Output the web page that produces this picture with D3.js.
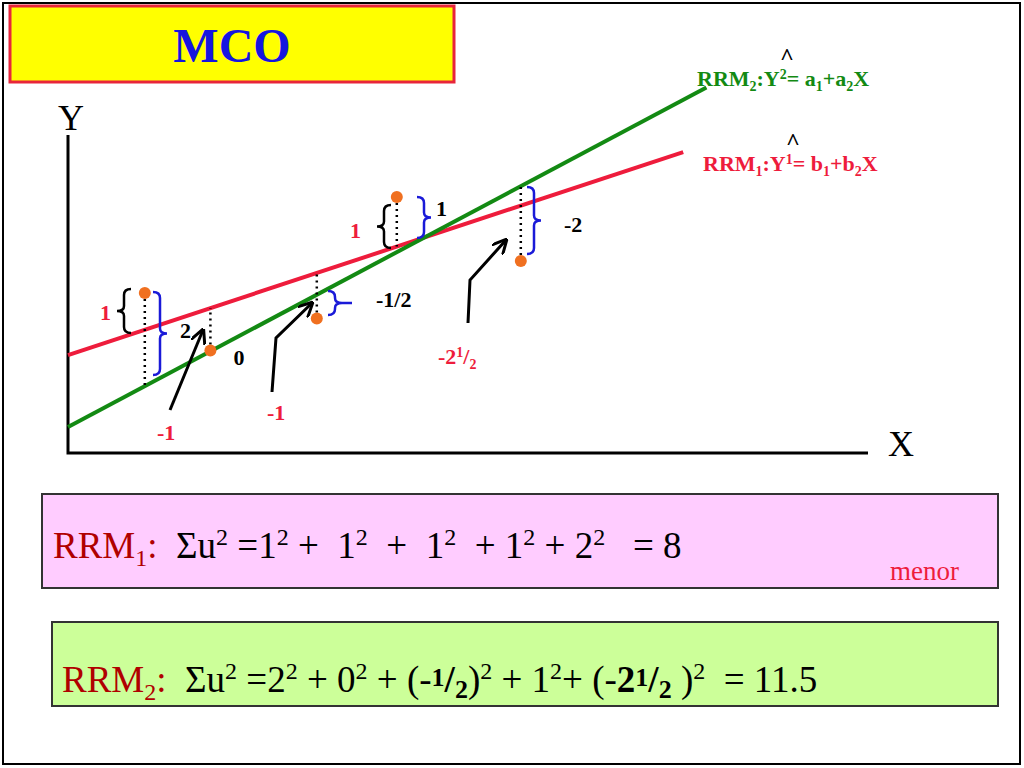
<!DOCTYPE html>
<html>
<head>
<meta charset="utf-8">
<style>
  body { margin: 0; background: #fff; }
  svg text { font-family: "Liberation Serif", "DejaVu Serif", serif; }
</style>
<script src="https://cdn.jsdelivr.net/npm/d3@7"></script>
</head>
<body>
<div id="chart"></div>
<script>
// observations (x, y) in chart units
var obsX = [0.96, 1.78, 3.11, 4.11, 5.66];
var obsY = [5.0, 3.2, 4.2, 8.0, 6.0];
// fitted lines: intercept, slope, x end
var rrm1 = {a: 3.06, b: 0.825, xEnd: 7.69};
var rrm2 = {a: 0.81, b: 1.33, xEnd: 7.98};
// residual labels
var blackLabels = [
  {x: 1.4, y: 3.6, t: "2"}, {x: 2.07, y: 2.75, t: "0"}, {x: 3.85, y: 4.55, t: "-1/2"},
  {x: 4.6, y: 7.4, t: "1"}, {x: 6.2, y: 6.9, t: "-2"}
];

var svg = d3.select("#chart").append("svg").attr("width", 1024).attr("height", 768)
  .attr("font-family", "Liberation Serif, DejaVu Serif, serif");
var x = d3.scaleLinear().domain([0, 10]).range([68, 868]);
var y = d3.scaleLinear().domain([0, 10]).range([453, 133]);

// frame
svg.append("rect").attr("x", 3).attr("y", 3).attr("width", 1017).attr("height", 761)
  .attr("fill", "none").attr("stroke", "#000").attr("stroke-width", 2);

// title box
svg.append("rect").attr("x", 10).attr("y", 6).attr("width", 444).attr("height", 76)
  .attr("fill", "#ffff00").attr("stroke", "#e8253a").attr("stroke-width", 3);
svg.append("text").attr("x", 232).attr("y", 62).attr("text-anchor", "middle")
  .attr("font-size", 48).attr("font-weight", "bold").attr("fill", "#1515e0").text("MCO");

// axes
svg.append("path").attr("d", "M68,135V453H868").attr("fill", "none").attr("stroke", "#000").attr("stroke-width", 3);
svg.append("text").attr("x", 58).attr("y", 130).attr("font-size", 36).text("Y");
svg.append("text").attr("x", 888).attr("y", 456).attr("font-size", 36).text("X");

// regression lines
function fitLine(m, color) {
  svg.append("line").attr("x1", x(0)).attr("y1", y(m.a)).attr("x2", x(m.xEnd)).attr("y2", y(m.a + m.b * m.xEnd))
    .attr("stroke", color).attr("stroke-width", 4);
}
fitLine(rrm1, "#ee1c3c");
fitLine(rrm2, "#138a13");

// dotted residual segments
var dotTo = [rrm2, rrm1, rrm1, rrm1, rrm2];
obsX.forEach(function(v, i) {
  var m = dotTo[i];
  svg.append("line").attr("x1", x(v)).attr("x2", x(v)).attr("y1", y(obsY[i])).attr("y2", y(m.a + m.b * v))
    .attr("stroke", "#000").attr("stroke-width", 2.5).attr("stroke-dasharray", "2,4");
});

// braces
function brace(xp, y1, y2, dir, color) {
  var ym = (y1 + y2) / 2, w = 7 * dir;
  var d = "M" + (xp - w) + "," + y1 + "Q" + xp + "," + y1 + " " + xp + "," + (y1 + 6) +
    "L" + xp + "," + (ym - 5) + "Q" + xp + "," + ym + " " + (xp + w) + "," + ym +
    "Q" + xp + "," + ym + " " + xp + "," + (ym + 5) + "L" + xp + "," + (y2 - 6) +
    "Q" + xp + "," + y2 + " " + (xp - w) + "," + y2;
  svg.append("path").attr("d", d).attr("fill", "none").attr("stroke", color).attr("stroke-width", 2.5);
}
brace(160, 292, 375, 1, "#1a1ad8");
brace(335, 291, 315, 1, "#1a1ad8");
svg.append("line").attr("x1", 342).attr("x2", 352).attr("y1", 303).attr("y2", 303).attr("stroke", "#1a1ad8").attr("stroke-width", 2.5);
brace(424, 197, 238, 1, "#1a1ad8");
brace(534, 187, 254, 1, "#1a1ad8");
brace(124, 289, 333, -1, "#000");
brace(384, 205, 248, -1, "#000");

// observations
svg.selectAll("circle.obs").data(obsX).enter().append("circle")
  .attr("cx", function(d) { return x(d); }).attr("cy", function(d, i) { return y(obsY[i]); })
  .attr("r", 6).attr("fill", "#f07020");

// arrows
svg.append("defs").append("marker").attr("id", "ah").attr("viewBox", "0 0 10 10").attr("refX", 9).attr("refY", 5)
  .attr("markerWidth", 5).attr("markerHeight", 5).attr("orient", "auto")
  .append("path").attr("d", "M0,0L10,5L0,10").attr("fill", "none").attr("stroke", "#000").attr("stroke-width", 2);
["M170,410L203,330", "M272,392L276,338L312,303", "M468,323L470,280L506,240"].forEach(function(a) {
  svg.append("path").attr("d", a).attr("fill", "none").attr("stroke", "#000").attr("stroke-width", 3).attr("marker-end", "url(#ah)");
});

// labels
blackLabels.forEach(function(l) {
  svg.append("text").attr("x", x(l.x)).attr("y", y(l.y)).attr("font-size", 22).attr("font-weight", "bold").text(l.t);
});
var red = "#ee1c3c";
function redText(px, py, t, size) {
  return svg.append("text").attr("x", px).attr("y", py).attr("font-size", size || 22).attr("font-weight", "bold").attr("fill", red).text(t);
}
redText(100, 320, "1"); redText(350, 238, "1");
redText(157, 440, "-1"); redText(267, 420, "-1");
var t = redText(438, 364, "-2");
t.append("tspan").attr("dy", -7).attr("font-size", 14).text("1");
t.append("tspan").attr("dy", 7).text("/");
t.append("tspan").attr("dy", 5).attr("font-size", 14).text("2");

// equations
function eq(px, py, color, name, pre) {
  var e = svg.append("text").attr("x", px).attr("y", py).attr("font-size", 22).attr("font-weight", "bold").attr("fill", color);
  e.append("tspan").text("RRM");
  e.append("tspan").attr("dy", 5).attr("font-size", 14).text(name);
  e.append("tspan").attr("dy", -5).text(":Y");
  e.append("tspan").attr("dy", -7).attr("font-size", 14).text(name);
  e.append("tspan").attr("dy", 7).text("= " + pre);
  e.append("tspan").attr("dy", 5).attr("font-size", 14).text("1");
  e.append("tspan").attr("dy", -5).text("+" + pre);
  e.append("tspan").attr("dy", 5).attr("font-size", 14).text("2");
  e.append("tspan").attr("dy", -5).text("X");
  svg.append("text").attr("x", px + 83).attr("y", py - 22).attr("font-size", 24).attr("font-weight", "bold").attr("fill", "#000").text("^");
}
eq(697, 86, "#138a13", "2", "a");
eq(703, 171, red, "1", "b");

// result boxes
svg.append("rect").attr("x", 42).attr("y", 494).attr("width", 956).attr("height", 94)
  .attr("fill", "#ffccff").attr("stroke", "#333").attr("stroke-width", 2);
svg.append("rect").attr("x", 52).attr("y", 622).attr("width", 946).attr("height", 84)
  .attr("fill", "#ccff99").attr("stroke", "#333").attr("stroke-width", 2);

function sum(px, py, color, name, parts) {
  var e = svg.append("text").attr("x", px).attr("y", py).attr("font-size", 37);
  e.append("tspan").attr("fill", color).text("RRM");
  e.append("tspan").attr("fill", color).attr("dy", 8).attr("font-size", 24).text(name);
  e.append("tspan").attr("fill", color).attr("dy", -8).text(":");
  parts.forEach(function(p) {
    var s = e.append("tspan").attr("dy", p[1]).text(p[0]);
    if (p[2]) s.attr("font-size", p[2]);
    if (p[3]) s.attr("font-weight", "bold");
  });
}
sum(53, 558, "#b00000", "1", [
  ["\u00a0\u00a0\u03a3u", 0], ["2", -13, 24], [" =1", 13], ["2", -13, 24], [" +\u00a0\u00a01", 13], ["2", -13, 24],
  ["\u00a0\u00a0+\u00a0\u00a01", 13], ["2", -13, 24], ["\u00a0\u00a0+ 1", 13], ["2", -13, 24], [" + 2", 13], ["2", -13, 24], ["\u00a0\u00a0\u00a0= 8", 13]
]);
svg.append("text").attr("x", 890).attr("y", 580).attr("font-size", 27).attr("fill", red).text("menor");
sum(62, 692, "#b00000", "2", [
  ["\u00a0\u00a0\u03a3u", 0], ["2", -13, 24], [" =2", 13], ["2", -13, 24], [" + 0", 13], ["2", -13, 24],
  [" + (-", 13], ["1", -6, 26, 1], ["/", 6, null, 1], ["2", 6, 26, 1], [")", -6], ["2", -13, 24], [" + 1", 13], ["2", -13, 24],
  ["+ (-", 13], ["2", 0, null, 1], ["1", -6, 26, 1], ["/", 6, null, 1], ["2", 6, 26, 1], [" )", -6], ["2", -13, 24], ["\u00a0\u00a0= 11.5", 13]
]);
</script>
</body>
</html>
